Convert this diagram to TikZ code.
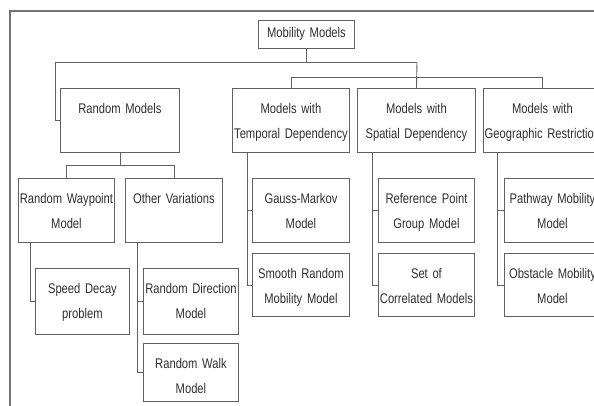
\documentclass[tikz,border=0pt]{standalone}
\usepackage{fontspec}
\setmainfont[FakeStretch=0.8]{Liberation Sans}
\hyphenpenalty=10000
\definecolor{linegray}{gray}{0.38}
\definecolor{framegray}{gray}{0.45}
\definecolor{textgray}{gray}{0.18}
\begin{document}
\begin{tikzpicture}[x=1pt, y=-1pt,
    every node/.style={text=textgray, font=\fontsize{14}{25}\selectfont},
    box/.style={draw=linegray, line width=0.9pt, anchor=north west, inner xsep=0pt, inner ysep=4pt,
                text width=#1, align=center, text height=21pt, text depth=35pt},
    rootbox/.style={draw=linegray, line width=0.9pt, anchor=north west, inner xsep=0pt, inner ysep=7.5pt,
                text width=#1, align=center, text height=10pt, text depth=3pt},
    link/.style={draw=linegray, line width=0.9pt},
    frame/.style={draw=framegray, line width=1.6pt}]
    \useasboundingbox (0,0) rectangle (594,405);
    \clip (0,0) rectangle (594,405);
    \draw[frame] (10,420) -- (10,11) -- (610,11);
    % root
    \node[rootbox=96pt] (mm) at (258,20) {Mobility Models};
    % first level
    \node[box=119pt] (rnd) at (60,88) {Random Models};
    \node[box=117pt] (tmp) at (232,88) {Models with\\Temporal Dependency};
    \node[box=118pt] (spa) at (357,88) {Models with\\Spatial Dependency};
    \node[box=118pt] (geo) at (483,88) {Models with\\Geographic Restriction};
    % random models
    \node[box=96pt] (rwp) at (18,178) {Random Waypoint\\Model};
    \node[box=97pt] (oth) at (125,178) {Other Variations};
    \node[box=94pt, text depth=37pt] (spd) at (35,268) {Speed Decay\\problem};
    \node[box=95pt, text depth=37pt] (rdir) at (143,268) {Random Direction\\Model};
    \node[box=95pt, text depth=29pt] (rwalk) at (143,343) {Random Walk\\Model};
    % temporal
    \node[box=97pt] (gm) at (252,178) {Gauss-Markov\\Model};
    \node[box=97pt, text depth=34pt] (smr) at (252,253) {Smooth Random\\Mobility Model};
    % spatial
    \node[box=96pt] (rpg) at (378,178) {Reference Point\\Group Model};
    \node[box=96pt, text depth=34pt] (scm) at (378,253) {Set of\\Correlated Models};
    % geographic
    \node[box=96pt] (pwm) at (504,178) {Pathway Mobility\\Model};
    \node[box=96pt, text depth=34pt] (obs) at (504,253) {Obstacle Mobility\\Model};
    % connectors
    \coordinate (j1) at (55,62);
    \coordinate (j2) at (417,62);
    \draw[link] (mm.south) -- (mm.south |- j1);
    \draw[link] (j1) -- (j2);
    \draw[link] (j1) |- (rnd.west);
    \draw[link] (j2) -- (spa.north);
    \draw[link] (tmp.north) -- ++(0,-11) -| (geo.north);
    \draw[link] (rnd.south) -- ++(0,12);
    \draw[link] (rwp.north) -- ++(0,-13) -| (oth.north);
    \draw[link] ([xshift=12pt]rwp.south west) |- (spd.west);
    \draw[link] ([xshift=12pt]oth.south west) |- (rdir.west);
    \draw[link] ([xshift=12pt]oth.south west) |- (rwalk.west);
    \draw[link] ([xshift=15pt]tmp.south west) |- (gm.west);
    \draw[link] ([xshift=15pt]tmp.south west) |- (smr.west);
    \draw[link] ([xshift=15pt]spa.south west) |- (rpg.west);
    \draw[link] ([xshift=15pt]spa.south west) |- (scm.west);
    \draw[link] ([xshift=14pt]geo.south west) |- (pwm.west);
    \draw[link] ([xshift=14pt]geo.south west) |- (obs.west);
\end{tikzpicture}
\end{document}
